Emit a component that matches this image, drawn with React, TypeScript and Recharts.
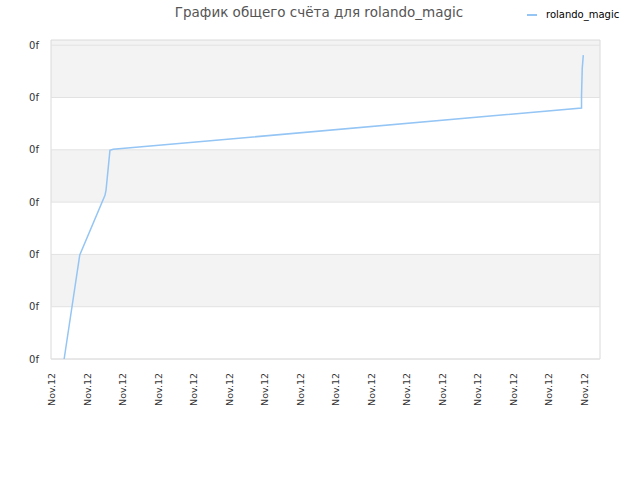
import { LineChart, Line, XAxis, YAxis, ReferenceArea, ReferenceLine } from 'recharts';

// chart values
const stepX = [0.37, 0.81, 1.52, 1.55, 1.66, 1.75, 14.94, 14.94, 14.96, 14.99];
const score = [0, 1.99, 3.13, 3.23, 3.99, 4.01, 4.8, 5.04, 5.56, 5.81];

const xTicks = [0, 1, 2, 3, 4, 5, 6, 7, 8, 9, 10, 11, 12, 13, 14, 15];
const xTickLabels = xTicks.map(() => 'Nov.12');
const yTicks = [0, 1, 2, 3, 4, 5, 6];
const yTickLabels = yTicks.map(() => '0f');
const shadedBands = [
    [1, 2],
    [3, 4],
    [5, 6.1]
];

const seriesName = 'rolando_magic';
const title = 'График общего счёта для rolando_magic';

const lineColor = '#94c5f4';
const font = '"DejaVu Sans", sans-serif';

const chartData = stepX.map((x, i) => ({ x, score: score[i] }));

function XTick(props: any) {
    const { x, y, payload } = props;
    return (
        <text
            x={0}
            y={0}
            transform={`translate(${x + 4}, ${y}) rotate(-90)`}
            textAnchor="end"
            fontSize={9.5}
            fontFamily={font}
            fill="#333"
        >
            {xTickLabels[payload.index] ?? xTickLabels[0]}
        </text>
    );
}

export default function App() {
    return (
        <div style={{ position: 'absolute', left: 0, top: 0, width: 640, height: 480, background: '#fff' }}>
            <div
                style={{
                    position: 'absolute',
                    left: 0,
                    width: 638,
                    top: 4,
                    textAlign: 'center',
                    fontFamily: font,
                    fontSize: 13.5,
                    color: '#555'
                }}
            >
                {title}
            </div>
            <div
                style={{
                    position: 'absolute',
                    left: 527,
                    top: 9,
                    display: 'flex',
                    alignItems: 'center',
                    fontFamily: font,
                    fontSize: 10,
                    color: '#000'
                }}
            >
                <span style={{ display: 'inline-block', width: 10, height: 2, background: lineColor, marginRight: 9 }} />
                {seriesName}
            </div>
            <LineChart
                width={640}
                height={480}
                data={chartData}
                margin={{ top: 40, right: 40, bottom: 61, left: 0 }}
            >
                <XAxis
                    type="number"
                    dataKey="x"
                    domain={[0, 15.46]}
                    ticks={xTicks}
                    interval={0}
                    axisLine={false}
                    tickLine={false}
                    tickSize={0}
                    tickMargin={14}
                    height={60}
                    tick={<XTick />}
                />
                <YAxis
                    type="number"
                    domain={[0, 6.1]}
                    ticks={yTicks}
                    interval={0}
                    width={51}
                    axisLine={false}
                    tickLine={false}
                    tickSize={0}
                    tickMargin={12}
                    tickFormatter={(v: number) => yTickLabels[v] ?? '0f'}
                    tick={{ fontSize: 10, fontFamily: font, fill: '#333' }}
                />
                {shadedBands.map(([a, b]) => (
                    <ReferenceArea key={a} y1={a} y2={b} fill="#f3f3f3" fillOpacity={1} stroke="none" />
                ))}
                {yTicks.map(t => (
                    <ReferenceLine key={t} y={t} stroke="#e2e2e2" strokeWidth={1} />
                ))}
                <ReferenceArea y1={0} y2={6.1} fill="none" stroke="#dadada" strokeWidth={1} />
                <Line
                    type="linear"
                    dataKey="score"
                    stroke={lineColor}
                    strokeWidth={1.5}
                    dot={false}
                    isAnimationActive={false}
                />
            </LineChart>
        </div>
    );
}
